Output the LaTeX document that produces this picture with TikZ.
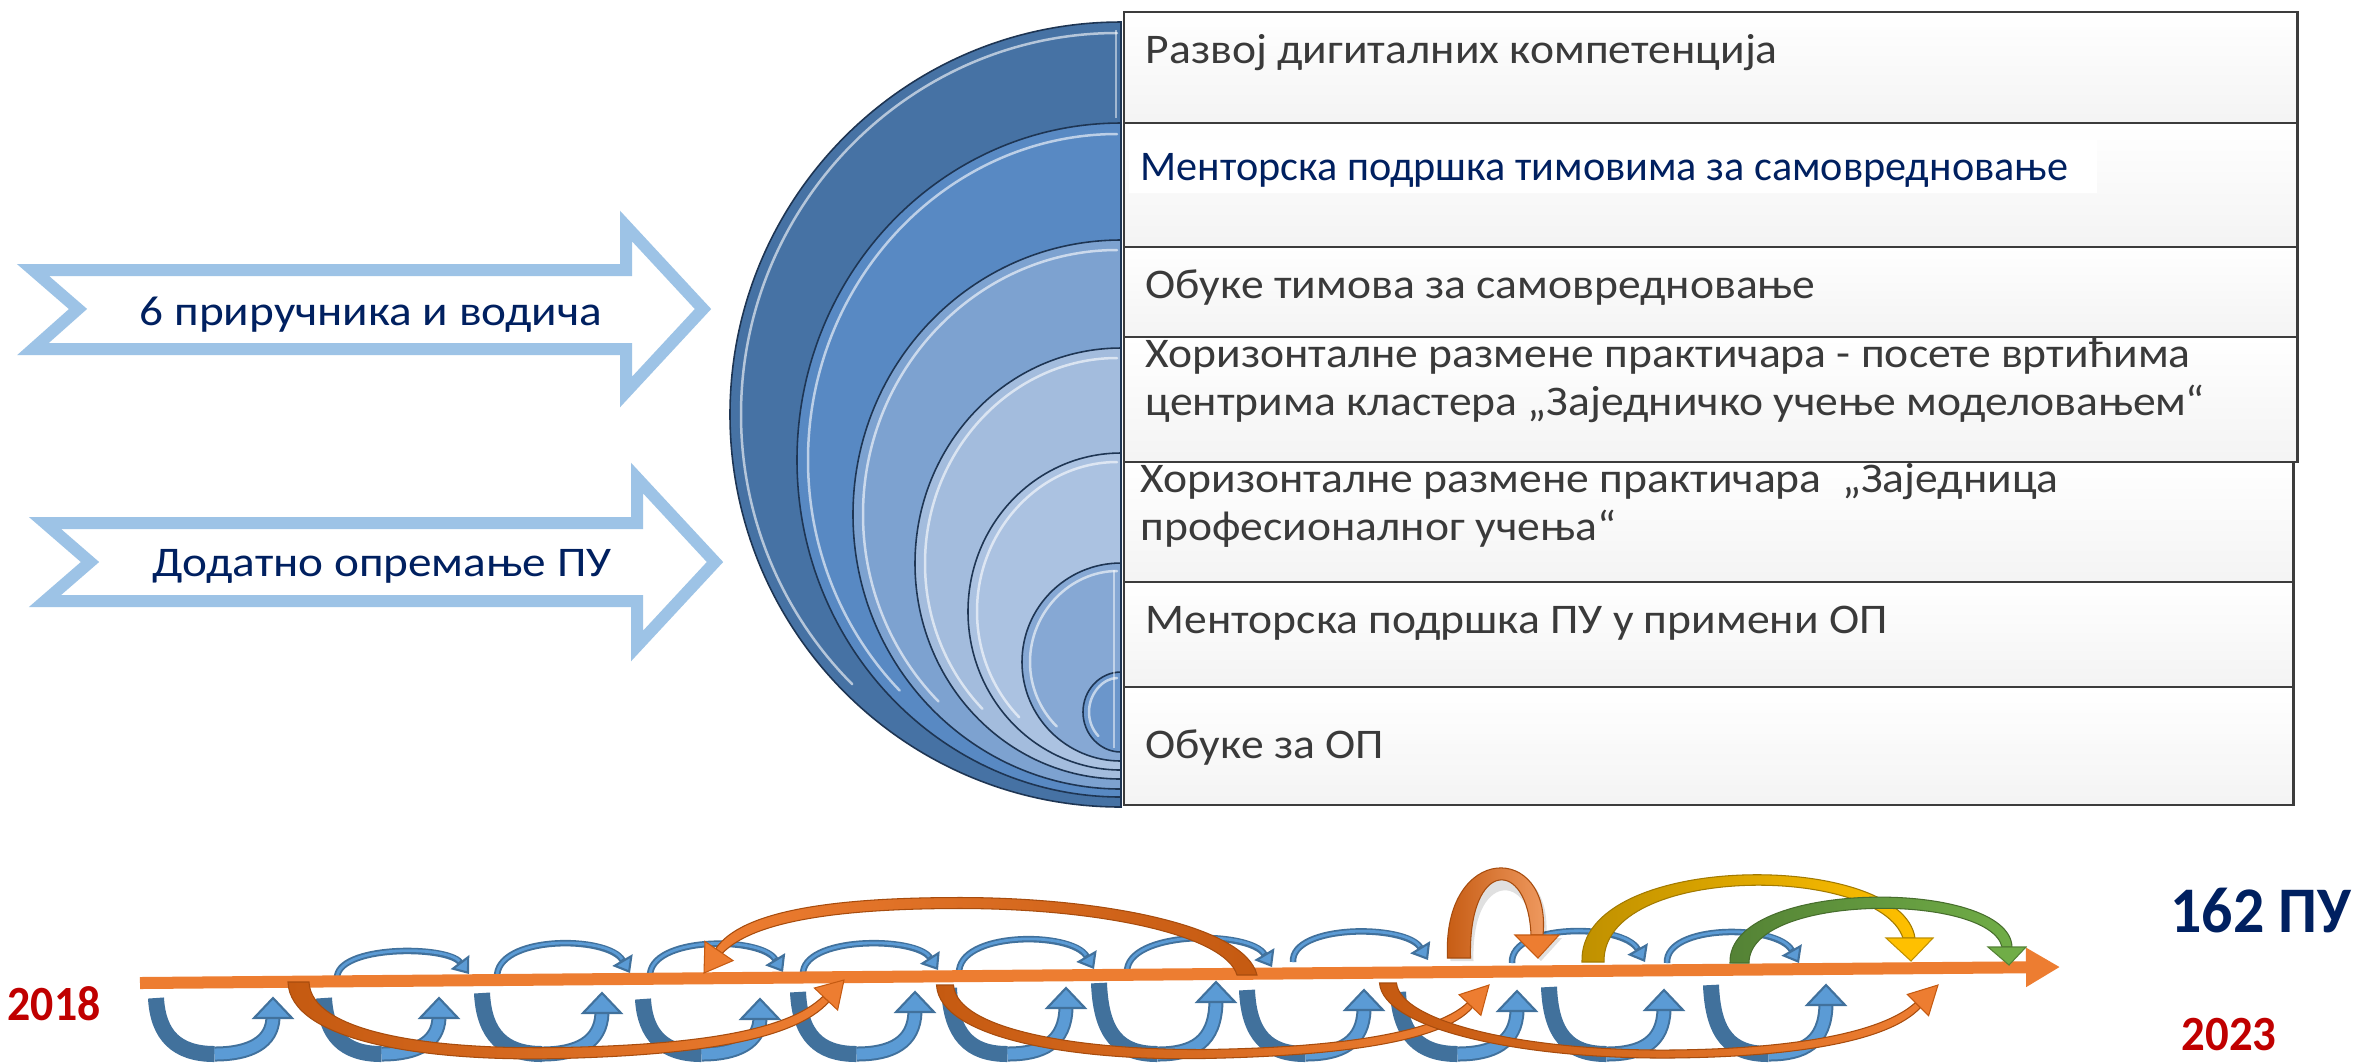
\documentclass[tikz,border=0pt]{standalone}
\usepackage{fontspec}
\setmainfont{Carlito}
\usetikzlibrary{calc,arrows.meta}
\definecolor{navy}{HTML}{002060}
\definecolor{txtgray}{HTML}{3A3A3A}
\definecolor{lblue}{HTML}{9DC3E6}
\definecolor{ring1}{HTML}{4672A4}
\definecolor{ring2}{HTML}{5889C3}
\definecolor{ring3}{HTML}{7DA2D0}
\definecolor{ring4}{HTML}{A3BCDD}
\definecolor{ring5}{HTML}{ABC2E1}
\definecolor{ring6}{HTML}{86A8D4}
\definecolor{ring7}{HTML}{6B96CB}
\definecolor{ringline}{HTML}{1E3553}
\definecolor{ublue}{HTML}{41719C}
\definecolor{ubluelt}{HTML}{5B9BD5}
\definecolor{orng}{HTML}{ED7D31}
\definecolor{brwn}{HTML}{C55A11}
\definecolor{gold}{HTML}{BF9000}
\definecolor{yell}{HTML}{FFC000}
\definecolor{dgreen}{HTML}{548235}
\definecolor{lgreen}{HTML}{70AD47}
\definecolor{dred}{HTML}{C00000}
\definecolor{rowline}{HTML}{3C3C3C}

\newcommand\halfring[4]{%
  \pgfmathsetmacro\rgCY{(#1+#2)/2}%
  \pgfmathsetmacro\rgRY{(#2-#1)/2}%
  \pgfmathsetmacro\rgKX{0.5523*#3}%
  \pgfmathsetmacro\rgKY{0.5523*\rgRY}%
  \filldraw[fill=#4, draw=ringline, line width=0.45pt]
    (1121,#1) .. controls (1121-\rgKX,#1) and (1121-#3,\rgCY-\rgKY) .. (1121-#3,\rgCY)
    .. controls (1121-#3,\rgCY+\rgKY) and (1121-\rgKX,#2) .. (1121,#2) -- cycle;
}
\newcommand\ringhl[4]{%
  \pgfmathsetmacro\rgCY{(#1+#2)/2}%
  \pgfmathsetmacro\rgRY{(#2-#1)/2-#4}%
  \pgfmathsetmacro\rgRX{#3-#4}%
  \draw[white, opacity=0.6, line width=0.025cm, line cap=round]
    (1117,\rgCY-\rgRY) .. controls (1121-0.5523*\rgRX,\rgCY-\rgRY) and (1121-\rgRX,\rgCY-0.5523*\rgRY) .. (1121-\rgRX,\rgCY)
    .. controls (1121-\rgRX,\rgCY+0.2652*\rgRY) and (1121-0.8946*\rgRX,\rgCY+0.5196*\rgRY) .. (1121-0.7071*\rgRX,\rgCY+0.7071*\rgRY);
}
\newcommand\ushape[4]{%
  \pgfmathsetmacro\uXS{#1+8}%
  \pgfmathsetmacro\uXB{(#1+8+#3)/2}%
  \pgfmathsetmacro\uYB{#4+20}%
  \draw[ublue, line width=0.16cm] (\uXS,#2) .. controls (\uXS+2,1035) and (\uXB-38,1054) .. (\uXB,1054);
  \draw[ublue, line width=0.15cm] (\uXB,1054) .. controls (\uXB+36,1054) and (#3-1,1042) .. (#3,\uYB);
  \draw[ubluelt, line width=0.11cm] (\uXB,1054) .. controls (\uXB+36,1054) and (#3-1,1042) .. (#3,\uYB);
  \filldraw[fill=ubluelt, draw=ublue, line width=0.6pt] (#3-19,\uYB) -- (#3,#4) -- (#3+19,\uYB) -- cycle;
}
\newcommand\aarc[5]{%
  \draw[ublue, line width=0.065cm, -{Triangle[length=0.15cm, width=0.23cm, line width=0.6pt, fill=ubluelt]}]
    (#1,#2) .. controls (#1-2,#5) and (#3-22,#5) .. (#3,#4);
  \draw[ubluelt, line width=0.028cm, shorten >=0.16cm]
    (#1,#2) .. controls (#1-2,#5) and (#3-22,#5) .. (#3,#4);
}
\newcommand\rowt[1]{\scalebox{1.08}[1]{#1}}
\newcommand\arrt[1]{\scalebox{1.12}[1]{#1}}

\tikzset{
  rowbox/.style={draw=rowline, line width=0.025cm, top color=white, bottom color=gray!9,
    inner sep=0pt, outer sep=0pt, anchor=north west},
  rowtxt/.style={text=txtgray, font=\fontsize{12}{14.4}\selectfont, inner sep=0pt, anchor=base west},
  arrtxt/.style={text=navy, font=\fontsize{12}{14.4}\selectfont, inner sep=0pt, anchor=base},
  arrowoutline/.style={draw=lblue, line width=0.12cm, fill=white, miter limit=10},
  yeartxt/.style={text=dred, font=\fontsize{14}{16}\selectfont\bfseries, inner sep=0pt, anchor=base},
}

\begin{document}
\begin{tikzpicture}[x=0.01cm, y=-0.01cm]
\useasboundingbox (0,0) rectangle (2359,1062);
\fill[white] (0,0) rectangle (2359,1062);
\begin{scope}
\clip (0,0) rectangle (2359,1062);

% ---------- nested half rings ----------
\halfring{22}{807}{391}{ring1}
\halfring{123}{797}{324}{ring2}
\halfring{240}{789}{268}{ring3}
\halfring{348}{779}{206}{ring4}
\halfring{453}{770}{153}{ring5}
\halfring{563}{761}{99}{ring6}
\halfring{672}{752}{38}{ring7}
\ringhl{22}{807}{391}{11}
\ringhl{123}{797}{324}{11}
\ringhl{240}{789}{268}{10}
\ringhl{348}{779}{206}{10}
\ringhl{453}{770}{153}{9}
\ringhl{563}{761}{99}{8}
\ringhl{672}{752}{38}{6}
\draw[white, opacity=.5, line width=0.02cm] (1116,30) -- (1116,118);
\draw[white, opacity=.5, line width=0.02cm] (1114,570) -- (1114,748);

% ---------- table rows ----------
\node[rowbox, minimum width=11.73cm, minimum height=1.11cm] (r1) at (1124,12) {};
\node[rowbox, minimum width=11.73cm, minimum height=1.24cm] (r2) at (1124,123) {};
\node[rowbox, minimum width=11.73cm, minimum height=0.90cm] (r3) at (1124,247) {};
\node[rowbox, minimum width=11.73cm, minimum height=1.25cm] (r4) at (1124,337) {};
\node[rowbox, minimum width=11.69cm, minimum height=1.20cm] (r5) at (1124,462) {};
\node[rowbox, minimum width=11.69cm, minimum height=1.05cm] (r6) at (1124,582) {};
\node[rowbox, minimum width=11.69cm, minimum height=1.18cm] (r7) at (1124,687) {};
\node[fill=white, anchor=north west, inner sep=0pt, minimum width=9.68cm, minimum height=0.53cm] (r2bg) at (1128,139) {};

\node[rowtxt] (t1) at (1145,63) {\rowt{Развој дигиталних компетенција}};
\node[rowtxt, text=navy] (t2) at (1140,180) {Менторска подршка тимовима за самовредновање};
\node[rowtxt] (t3) at (1145,298) {\rowt{Обуке тимова за самовредновање}};
\node[rowtxt] (t4a) at (1145,367) {\rowt{Хоризонталне размене практичара - посете вртићима}};
\node[rowtxt] (t4b) at (1145,415) {\rowt{центрима кластера „Заједничко учење моделовањем“}};
\node[rowtxt] (t5a) at (1140,492) {\rowt{Хоризонталне размене практичара~ „Заједница}};
\node[rowtxt] (t5b) at (1140,540) {\rowt{професионалног учења“}};
\node[rowtxt] (t6) at (1145,633) {\rowt{Менторска подршка ПУ у примени ОП}};
\node[rowtxt] (t7) at (1145,758) {\rowt{Обуке за ОП}};

% ---------- left arrows ----------
\path[arrowoutline] (33,270) -- (626,270) -- (626,226) -- (703,309) -- (626,392) -- (626,349) -- (33,349) -- (78,309) -- cycle;
\path[arrowoutline] (45,523) -- (637,523) -- (637,478) -- (715,562) -- (637,646) -- (637,601) -- (45,601) -- (90,562) -- cycle;
\node[arrtxt] (a1txt) at (371,325) {\arrt{6 приручника и водича}};
\node[arrtxt] (a2txt) at (382,576) {\arrt{Додатно опремање ПУ}};

% ---------- timeline: blue U arrows ----------
\ushape{148}{998}{273}{998}
\ushape{316}{998}{439}{998}
\ushape{474}{993}{602}{993}
\ushape{635}{999}{760}{999}
\ushape{790}{992}{915}{992}
\ushape{941}{988}{1066}{988}
\ushape{1091}{983}{1216}{982}
\ushape{1239}{990}{1364}{990}
\ushape{1390}{992}{1517}{991}
\ushape{1541}{987}{1664}{990}
\ushape{1703}{985}{1826}{985}

% ---------- blue arcs above line ----------
\aarc{337}{979}{469}{974}{945}
\aarc{497}{978}{630}{973}{935}
\aarc{650}{977}{783}{972}{936}
\aarc{803}{975}{938}{970}{936}
\aarc{959}{974}{1094}{969}{931}
\aarc{1127}{973}{1272}{967}{930}
\aarc{1293}{962}{1428}{960}{924}
\aarc{1512}{963}{1645}{962}{923}
\aarc{1667}{963}{1799}{963}{924}

% ---------- main time line ----------
\coordinate (tlstart) at (140,983);
\coordinate (tlend) at (2060,967);
\draw[orng, line width=0.12cm, -{Triangle[length=0.34cm, width=0.37cm]}] (tlstart) -- (tlend);

% ---------- orange / brown bands ----------
% B1
\shadedraw[left color=brwn, right color=orng, draw=brwn!85!black, line width=0.3pt]
  (309,982) .. controls (311,1030) and (420,1050) .. (560,1047.5) .. controls (686,1045) and (786,1033) .. (823.1,996.2)
  -- (828.9,1001.8) .. controls (794,1041) and (694,1055) .. (560,1058.5) .. controls (420,1062) and (290,1040) .. (288,982) -- cycle;
\coordinate (b1T) at (844,980); \coordinate (b1B) at (826,999);
\filldraw[fill=orng, draw=brwn, line width=0.3pt] (b1T) -- ($(b1B)!0.16cm!90:(b1T)$) -- ($(b1B)!0.16cm!-90:(b1T)$) -- cycle;
% B3
\shadedraw[left color=brwn, right color=orng, draw=brwn!85!black, line width=0.3pt]
  (953.5,985) .. controls (956.5,1030) and (1080,1050) .. (1203,1049.5) .. controls (1326,1048) and (1434,1035) .. (1467.5,1002.6)
  -- (1472.5,1007.4) .. controls (1442,1043) and (1334,1056) .. (1203,1058.5) .. controls (1080,1061) and (939.5,1040) .. (936.5,985) -- cycle;
\coordinate (b3T) at (1489,985); \coordinate (b3B) at (1470,1005);
\filldraw[fill=orng, draw=brwn, line width=0.3pt] (b3T) -- ($(b3B)!0.15cm!90:(b3T)$) -- ($(b3B)!0.15cm!-90:(b3T)$) -- cycle;
% B4
\shadedraw[left color=brwn, right color=orng, draw=brwn!85!black, line width=0.3pt]
  (1396.5,983) .. controls (1400,1021) and (1520,1051) .. (1670,1050) .. controls (1788,1049) and (1881,1034) .. (1915.5,1002.5)
  -- (1920.5,1007.5) .. controls (1889,1042) and (1792,1057) .. (1670,1058) .. controls (1520,1059) and (1383,1029) .. (1379.5,983) -- cycle;
\coordinate (b4T) at (1938,985); \coordinate (b4B) at (1918,1005);
\filldraw[fill=orng, draw=brwn, line width=0.3pt] (b4T) -- ($(b4B)!0.15cm!90:(b4T)$) -- ($(b4B)!0.15cm!-90:(b4T)$) -- cycle;
% B2 (big arc above)
\shadedraw[left color=orng, right color=brwn, draw=brwn!85!black, line width=0.3pt]
  (1257,975) .. controls (1245,925) and (1100,897.5) .. (960,897.5) .. controls (836,897.5) and (742,910) .. (715.7,948.7)
  -- (722.3,953.3) .. controls (754,920) and (844,908.5) .. (960,908.5) .. controls (1100,908.5) and (1225,935) .. (1237,975) -- cycle;
\coordinate (b2T) at (704,973); \coordinate (b2B) at (719,951);
\filldraw[fill=orng, draw=brwn, line width=0.3pt] (b2T) -- ($(b2B)!0.17cm!90:(b2T)$) -- ($(b2B)!0.17cm!-90:(b2T)$) -- cycle;
% B5 (flip arrow) with soft shadow
\fill[black, opacity=0.12] (1450.5,961) .. controls (1445,845) and (1555,845) .. (1546,938) -- (1562,938) -- (1541,961) -- (1518,938) -- (1534,938) .. controls (1531,871) and (1471,871) .. (1473.5,961) -- cycle;
\shadedraw[left color=brwn, right color=orng!75!white, draw=brwn!85!black, line width=0.3pt]
  (1447.5,958) .. controls (1442,842) and (1552,842) .. (1543,935)
  -- (1531,935) .. controls (1528,858) and (1468,858) .. (1470.5,958) -- cycle;
\filldraw[fill=orng, draw=brwn, line width=0.3pt] (1515,935) -- (1559,935) -- (1538,958) -- cycle;
% C1 yellow
\shadedraw[left color=gold, right color=yell, draw=gold!85!black, line width=0.3pt]
  (1582,962) .. controls (1578,850) and (1902,850) .. (1915,938)
  -- (1903,938) .. controls (1878,864) and (1602,864) .. (1604,962) -- cycle;
\filldraw[fill=yell, draw=gold, line width=0.3pt] (1886,938) -- (1933,938) -- (1911,961) -- cycle;
% C2 green
\shadedraw[left color=dgreen, right color=lgreen, draw=dgreen!85!black, line width=0.3pt]
  (1730,963) .. controls (1727,878) and (2010,878) .. (2012,947)
  -- (2002,947) .. controls (1990,893) and (1749,893) .. (1749,963) -- cycle;
\filldraw[fill=lgreen, draw=dgreen, line width=0.3pt] (1988,947) -- (2026,947) -- (2009,965) -- cycle;

% ---------- labels ----------
\node[yeartxt] (y2018) at (54,1020) {\scalebox{0.93}[1]{2018}};
\node[yeartxt] (y2023) at (2229,1050) {\scalebox{0.95}[1]{2023}};
\node[text=navy, font=\fontsize{18.5}{21}\selectfont\bfseries, inner sep=0pt, anchor=base] (pu) at (2261,932) {\scalebox{0.95}[1]{162 ПУ}};
\end{scope}
\end{tikzpicture}
\end{document}
